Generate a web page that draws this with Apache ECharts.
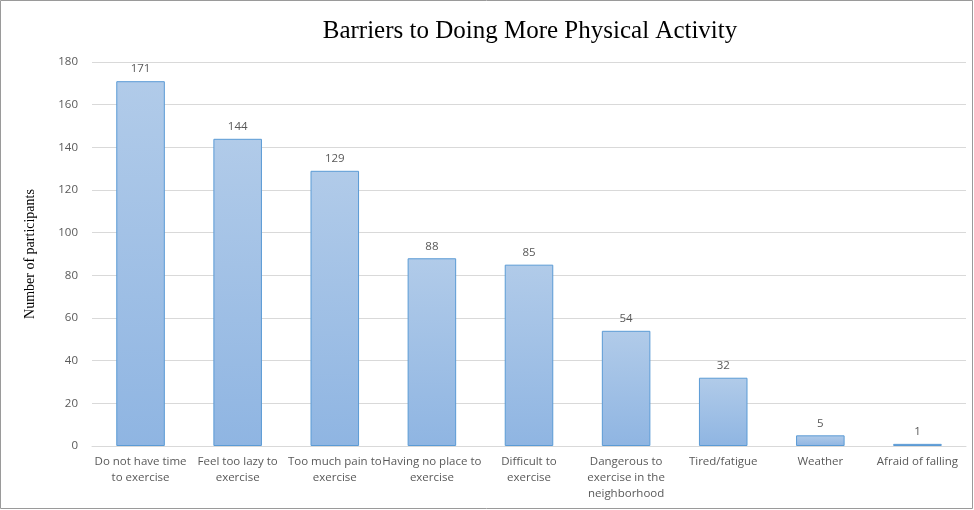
<!DOCTYPE html>
<html><head><meta charset="utf-8">
<script src="https://cdn.jsdelivr.net/npm/echarts@6/dist/echarts.min.js"></script>
<style>html,body{margin:0;padding:0;background:#fff}#c{width:974px;height:510px}</style>
</head><body><div id="c"></div>
<script>
const categories = ["Do not have time\nto exercise","Feel too lazy to\nexercise","Too much pain to\nexercise","Having no place to\nexercise","Difficult to\nexercise","Dangerous to\nexercise in the\nneighborhood","Tired/fatigue","Weather","Afraid of falling"];
const values = [171,144,129,88,85,54,32,5,1];
const yTicks = [0,20,40,60,80,100,120,140,160,180];
const chart = echarts.init(document.getElementById('c'));
chart.setOption({
  animation:false,
  graphic:[{type:'rect',shape:{x:0.5,y:0.5,width:972,height:508},style:{fill:'none',stroke:'#9a9a9a',lineWidth:1}}],
  title:{text:'Barriers to Doing More Physical Activity',left:525,top:14,textAlign:'center',
    textStyle:{fontFamily:'Liberation Serif',fontWeight:'normal',fontSize:25,color:'#000'}},
  grid:{left:92,right:8,top:62,bottom:64},
  xAxis:{type:'category',data:categories,
    axisLine:{lineStyle:{color:'#d9d9d9'}},axisTick:{show:false},
    axisLabel:{interval:0,color:'#595959',fontFamily:'Open Sans',fontSize:11.5,lineHeight:16,margin:8}},
  yAxis:{type:'value',min:yTicks[0],max:yTicks[yTicks.length-1],interval:20,
    name:'Number of participants',nameLocation:'middle',nameGap:55,nameRotate:90,
    nameTextStyle:{fontFamily:'Liberation Serif',fontSize:14,color:'#000'},
    axisLine:{show:false},axisTick:{show:false},
    axisLabel:{color:'#595959',fontFamily:'Open Sans',fontSize:11.5,margin:14},
    splitLine:{lineStyle:{color:'#d9d9d9'}}},
  series:[{type:'bar',data:values,barWidth:'50%',
    itemStyle:{color:new echarts.graphic.LinearGradient(0,0,0,1,[{offset:0,color:'#b1cbe9'},{offset:1,color:'#8fb5e2'}]),
      borderColor:'#5b9bd5',borderWidth:1},
    label:{show:true,position:'top',color:'#595959',fontFamily:'Open Sans',fontSize:11.5,distance:6}}]
});
</script></body></html>
